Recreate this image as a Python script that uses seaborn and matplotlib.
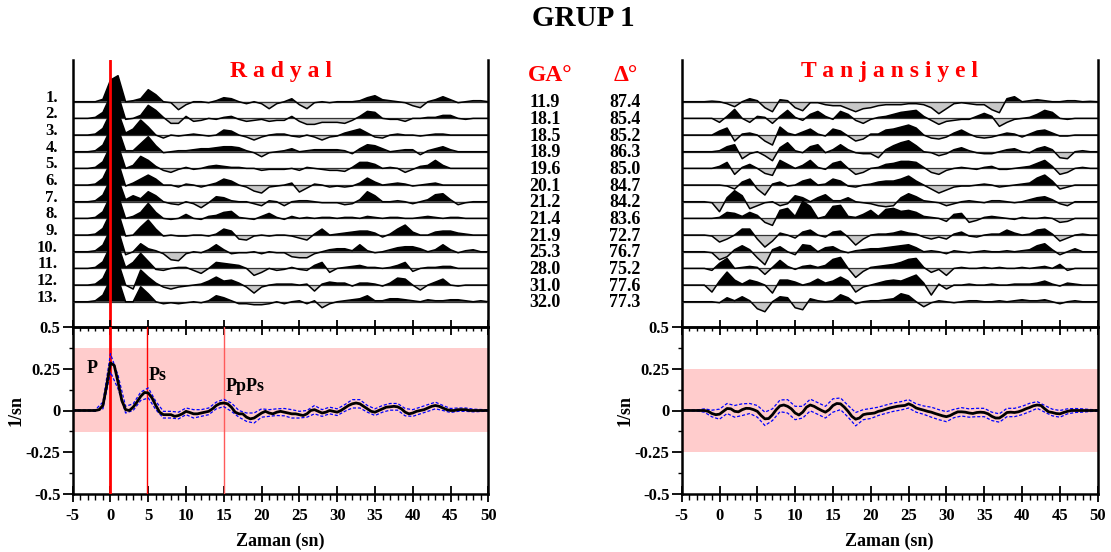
import numpy as np
import matplotlib
matplotlib.use("Agg")
import matplotlib.pyplot as plt
import matplotlib.transforms as mtransforms
from matplotlib.ticker import MultipleLocator, FixedLocator
import seaborn as sns

# ---------------- data ----------------
time_trace = np.arange(-5, 51, 1.0)        # 1 s samples, -5 .. 50 s
time_stack = np.arange(-5, 50.25, 0.5)     # 0.5 s samples for the stacks

trace_labels = ["1.", "2.", "3.", "4.", "5.", "6.", "7.", "8.", "9.", "10.", "11.", "12.", "13."]
back_azimuth = ["11.9", "18.1", "18.5", "18.9", "19.6", "20.1", "21.2", "21.4", "21.9", "25.3", "28.0", "31.0", "32.0"]
distance = ["87.4", "85.4", "85.2", "86.3", "85.0", "84.7", "84.2", "83.6", "72.7", "76.7", "75.2", "77.6", "77.3"]

# individual receiver functions (relative amplitude), t = -5 .. 50 s
radial_traces = [
    [0, 0, 0, 0.0, 0.12, 1.08, 1.3, 0.0, 0.05, 0.15, 0.6, 0.35, 0.0, -0.05, -0.4,
     -0.15, 0.0, 0.0, -0.05, 0.05, 0.2, 0.15, 0.0, -0.1, 0.0,
     -0.1, -0.35, -0.1, 0.0, 0.15, -0.15, -0.35, -0.05, 0.0, -0.05,
     0.0, 0.0, 0.0, 0.05, 0.2, 0.3, 0.1, 0.05, 0.0, -0.05,
     -0.2, -0.3, 0.0, 0.1, 0.25, 0.1, -0.05, 0.0, 0.05, 0.05, 0.0],
    [0, 0, 0, 0.05, 0.3, 1.12, 1.2, -0.05, 0.0, 0.15, 0.65, 0.4, 0.05, -0.25, -0.25,
     0.1, -0.15, -0.1, 0.0, -0.05, 0.05, 0.1, -0.05, -0.15, -0.1,
     -0.05, -0.15, -0.1, -0.1, 0.1, -0.15, -0.3, -0.3, -0.2, -0.2,
     -0.2, -0.25, -0.1, 0.1, 0.35, 0.3, 0.0, -0.05, -0.05, -0.15,
     0.0, 0.0, 0.05, 0.05, 0.15, 0.15, 0.0, -0.05, 0.0, 0.0, 0.0],
    [0, 0, 0, 0.05, 0.33, 1.12, 1.17, 0.1, 0.3, 0.75, 0.4, 0.0, -0.15, 0.0, -0.05,
     0.0, 0.05, 0.0, -0.05, 0.0, 0.25, 0.2, 0.0, -0.1, -0.25,
     -0.1, 0.0, 0.05, 0.05, -0.05, -0.1, 0.0, -0.1, -0.25, -0.1,
     -0.05, 0.1, 0.2, 0.3, 0.1, -0.1, -0.15, 0.0, 0.05, 0.0,
     0.0, -0.05, 0.0, 0.05, 0.05, 0.0, 0.0, 0.0, 0.0, 0.0, 0.0],
    [0, 0, 0, 0.05, 0.33, 1.12, 1.17, 0.05, 0.05, 0.4, 0.75, 0.3, -0.05, 0.0, 0.05,
     0.05, 0.1, 0.15, 0.15, 0.2, 0.25, 0.25, 0.2, 0.05, -0.05,
     -0.25, -0.05, 0.0, 0.05, 0.15, 0.0, 0.05, 0.1, 0.1, 0.1,
     0.1, 0.05, -0.1, 0.15, 0.35, 0.3, 0.15, 0.0, 0.05, 0.1,
     0.1, -0.15, 0.05, 0.15, 0.25, 0.1, 0.0, 0.0, 0.0, 0.0, 0.0],
    [0, 0, 0, 0.05, 0.33, 1.12, 1.17, 0.0, 0.15, 0.6, 0.4, 0.1, -0.1, -0.2, -0.05,
     0.05, -0.05, 0.0, 0.1, 0.15, 0.1, 0.05, 0.05, 0.0, 0.0,
     -0.1, -0.05, -0.05, -0.05, 0.0, -0.1, 0.05, 0.0, -0.05, -0.1,
     -0.1, -0.15, 0.05, 0.3, 0.3, 0.2, 0.0, 0.05, 0.0, -0.2,
     -0.05, 0.1, 0.15, 0.4, 0.15, 0.0, 0.0, 0.0, 0.0, 0.0, 0.0],
    [0, 0, 0, 0.05, 0.33, 1.12, 1.17, -0.05, 0.1, 0.3, 0.5, 0.3, 0.0, 0.0, -0.1,
     0.05, 0.0, -0.1, 0.0, 0.1, 0.3, 0.2, 0.0, -0.1, -0.3,
     -0.4, -0.1, -0.05, 0.0, 0.1, -0.35, -0.15, 0.05, 0.0, -0.1,
     -0.05, -0.1, -0.05, 0.1, 0.35, 0.15, 0.0, 0.05, 0.1, 0.05,
     -0.05, 0.0, 0.05, 0.1, 0.0, 0.0, 0.0, 0.0, 0.0, 0.0, 0.0],
    [0, 0, 0, 0.05, 0.33, 1.12, 1.17, 0.1, 0.3, 0.15, 0.5, 0.3, 0.0, -0.1, -0.15,
     0.0, -0.1, -0.3, -0.05, 0.25, 0.2, 0.05, 0.0, 0.0, -0.1,
     -0.2, 0.05, 0.0, -0.2, 0.0, 0.05, 0.05, 0.0, -0.05, -0.05,
     -0.05, -0.15, -0.1, 0.1, 0.5, 0.3, 0.0, 0.0, 0.05, 0.0,
     -0.1, 0.0, 0.1, 0.35, 0.4, 0.1, -0.15, -0.05, 0.0, 0.0, 0.0],
    [0, 0, 0, 0.05, 0.33, 1.12, 1.17, 0.0, 0.1, 0.3, 0.75, 0.3, 0.0, -0.05, 0.0,
     0.2, 0.0, -0.05, 0.1, 0.15, 0.3, 0.35, 0.05, 0.0, -0.05,
     0.1, 0.25, 0.05, -0.05, 0.1, 0.0, 0.05, 0.0, 0.05, 0.05,
     0.0, 0.05, 0.05, 0.0, 0.1, 0.05, 0.0, 0.05, 0.05, 0.0,
     0.0, 0.05, 0.1, 0.05, 0.0, 0.05, 0.05, 0.0, 0.0, 0.0, 0.0],
    [0, 0, 0, 0.05, 0.33, 1.12, 1.17, -0.05, 0.0, 0.4, 0.75, 0.3, -0.05, 0.0, -0.05,
     -0.05, 0.0, 0.0, -0.05, 0.05, 0.3, 0.2, -0.2, -0.25, -0.05,
     0.0, -0.05, 0.0, 0.0, -0.05, -0.15, -0.25, 0.05, 0.3, 0.0,
     0.05, 0.1, 0.15, 0.2, 0.2, 0.1, -0.1, 0.05, 0.3, 0.5,
     0.15, 0.0, 0.0, 0.15, 0.2, 0.2, 0.1, 0.05, 0.0, 0.0, 0.0],
    [0, 0, 0, 0.05, 0.33, 1.12, 1.12, -0.15, 0.0, 0.4, 0.15, 0.05, -0.1, -0.4, -0.45,
     -0.1, 0.0, -0.05, 0.1, 0.35, 0.1, -0.1, -0.05, -0.05, 0.0,
     -0.1, 0.0, -0.05, -0.05, -0.25, -0.3, -0.3, -0.1, 0.0, 0.1,
     0.15, 0.15, 0.05, 0.35, 0.05, -0.05, 0.0, 0.1, 0.2, 0.25,
     0.25, 0.15, 0.0, 0.1, 0.35, 0.1, -0.05, 0.05, 0.1, 0.0, 0.0],
    [0, 0, 0, 0.05, 0.33, 1.12, 1.17, 0.05, 0.3, 0.75, 0.35, -0.05, -0.1, 0.0, 0.05,
     0.05, -0.1, -0.25, 0.0, 0.3, 0.25, 0.2, 0.15, 0.0, -0.35,
     -0.2, 0.0, -0.1, -0.05, 0.05, -0.05, -0.1, 0.15, 0.3, -0.2,
     0.0, 0.05, 0.1, 0.15, 0.05, 0.05, 0.0, 0.05, 0.15, 0.3,
     -0.15, 0.0, 0.05, 0.05, 0.1, 0.1, 0.0, 0.0, 0.0, 0.0, 0.0],
    [0, 0, 0, 0.05, 0.33, 1.12, 1.17, 0.0, -0.2, 0.75, 0.4, 0.1, -0.1, -0.2, -0.1,
     -0.05, 0.0, 0.05, 0.2, 0.4, 0.2, 0.25, 0.1, -0.1, -0.4,
     -0.1, 0.0, 0.05, 0.05, 0.05, 0.0, 0.05, -0.3, 0.05, 0.15,
     0.1, 0.1, -0.05, 0.1, 0.1, 0.05, -0.05, 0.1, 0.35, 0.3,
     0.0, -0.25, 0.0, 0.15, 0.3, 0.0, -0.05, 0.0, 0.0, 0.0, 0.0],
    [0, 0, 0, 0.05, 0.33, 1.12, 1.17, 0.0, 0.0, 0.75, 0.4, 0.0, -0.1, -0.05, -0.1,
     -0.05, 0.0, -0.05, 0.05, 0.3, 0.2, 0.05, -0.1, -0.1, -0.15,
     -0.15, -0.1, 0.0, -0.1, 0.0, 0.05, -0.1, 0.05, -0.3, -0.1,
     0.0, 0.05, 0.1, 0.15, 0.3, 0.05, 0.05, 0.15, 0.15, 0.1,
     0.05, 0.0, 0.1, 0.05, 0.05, 0.1, 0.1, 0.05, 0.0, 0.05, 0.0],
]

tangential_traces = [
    [0, 0, 0, 0, 0.03, 0.0, -0.1, -0.25, 0.0, 0.15, 0.05, -0.3, -0.5, 0.1, 0.05,
     -0.3, -0.45, -0.05, -0.05, -0.15, -0.2, -0.2, -0.35, -0.5, -0.35,
     -0.3, -0.2, -0.15, -0.15, -0.15, -0.1, -0.1, -0.15, -0.3, -0.6,
     -0.35, -0.1, -0.05, -0.1, -0.15, -0.15, -0.4, -0.55, 0.15, 0.25,
     0.0, 0.05, 0.1, 0.05, 0.0, 0.0, 0.05, 0.05, 0.0, 0.02, 0.0],
    [0, 0, 0, 0, 0, -0.2, 0.1, 0.45, 0.0, -0.2, 0.1, 0.05, -0.25, 0.1, 0.4,
     0.05, -0.1, 0.2, 0.35, 0.1, -0.05, 0.35, 0.2, -0.1, -0.25,
     -0.05, 0.05, 0.1, 0.2, 0.3, 0.35, 0.4, 0.1, -0.1, -0.3,
     -0.15, -0.1, -0.05, -0.05, 0.1, 0.25, 0.1, -0.4, -0.2, -0.05,
     0.0, 0.05, 0.2, 0.4, 0.3, 0.0, -0.05, 0.0, 0.0, 0.0, 0.0],
    [0, 0, 0, 0, 0, 0.2, 0.35, -0.3, 0.05, 0.1, 0.0, -0.3, -0.5, 0.4, 0.1,
     0.0, 0.15, 0.3, 0.05, -0.05, 0.3, 0.2, -0.05, -0.3, -0.2,
     0.05, 0.05, 0.25, 0.3, 0.4, 0.5, 0.35, 0.0, -0.15, -0.2,
     -0.1, 0.1, 0.25, 0.05, -0.1, -0.15, -0.1, 0.0, 0.1, 0.05,
     -0.1, 0.05, 0.2, 0.25, 0.1, -0.05, -0.05, 0.0, 0.0, 0.0, 0.0],
    [0, 0, 0, 0, 0, 0.05, 0.25, 0.35, -0.35, -0.1, 0.0, -0.2, -0.45, 0.2, 0.45,
     0.05, -0.05, 0.25, 0.35, -0.05, 0.1, 0.35, 0.1, -0.05, -0.1,
     -0.1, -0.3, 0.1, 0.3, 0.45, 0.55, 0.3, 0.0, -0.05, -0.2,
     -0.1, 0.1, 0.2, 0.05, -0.05, -0.1, -0.1, 0.0, 0.1, 0.15,
     0.0, -0.05, 0.15, 0.25, 0.1, -0.3, -0.35, 0.0, 0.05, 0.0, 0.0],
    [0, 0, 0, 0, 0, 0.1, 0.3, -0.3, 0.05, 0.2, 0.0, -0.25, -0.35, 0.4, 0.2,
     0.0, 0.15, 0.4, 0.05, -0.05, 0.25, 0.35, 0.0, -0.3, -0.2,
     0.0, 0.05, 0.2, 0.25, 0.35, 0.35, 0.3, 0.05, -0.2, -0.3,
     -0.1, 0.0, 0.05, 0.0, -0.05, 0.05, 0.1, -0.05, -0.05, 0.0,
     0.05, 0.1, 0.25, 0.4, 0.1, -0.3, -0.2, 0.0, 0.05, 0.0, 0.0],
    [0, 0, 0, 0, 0, 0.0, -0.05, -0.2, 0.15, 0.3, -0.2, -0.5, 0.05, 0.15, -0.05,
     0.0, 0.2, 0.3, 0.0, 0.05, 0.3, 0.2, -0.05, -0.1, 0.0,
     0.05, 0.15, 0.2, 0.2, 0.3, 0.45, 0.2, 0.0, -0.2, -0.4,
     -0.25, -0.1, -0.05, -0.05, 0.0, 0.05, 0.0, -0.1, -0.05, 0.0,
     0.05, 0.1, 0.35, 0.5, 0.2, -0.2, -0.1, 0.0, 0.0, 0.0, 0.0],
    [0, 0, 0, 0, -0.05, -0.5, 0.2, 0.55, 0.3, -0.35, -0.2, -0.05, 0.0, -0.2, -0.1,
     0.3, 0.2, 0.0, 0.2, 0.35, 0.05, 0.05, 0.2, 0.0, -0.05,
     -0.1, -0.2, -0.25, -0.2, 0.2, 0.4, 0.25, 0.05, 0.0, -0.05,
     -0.2, -0.1, 0.0, 0.05, 0.0, -0.05, 0.05, 0.05, 0.0, -0.05,
     0.0, 0.1, 0.2, 0.25, 0.1, -0.1, -0.2, 0.0, 0.0, 0.0, 0.0],
    [0, 0, 0, 0, 0, 0.05, 0.3, 0.25, 0.1, 0.3, 0.15, -0.2, -0.35, 0.4, 0.5,
     0.1, 0.85, 0.6, 0.0, 0.1, 0.6, 0.65, 0.1, 0.05, 0.2,
     0.4, 0.1, 0.45, 0.5, 0.35, 0.4, 0.3, 0.1, 0.05, 0.0,
     -0.15, 0.2, 0.25, -0.2, -0.1, 0.05, 0.1, 0.05, 0.0, -0.05,
     0.05, 0.0, 0.0, 0.05, 0.0, -0.2, -0.15, 0.0, 0.0, 0.0, 0.0],
    [0, 0, 0, 0, -0.05, -0.35, -0.2, 0.0, 0.3, 0.3, -0.2, -0.6, -0.3, 0.1, 0.0,
     -0.15, 0.15, 0.25, 0.0, -0.1, 0.15, 0.2, -0.1, -0.5, -0.2,
     0.0, 0.05, 0.05, 0.1, 0.2, 0.1, 0.05, -0.1, -0.2, -0.1,
     -0.2, 0.05, 0.15, -0.05, -0.1, 0.0, 0.05, 0.05, 0.25, 0.1,
     0.0, 0.05, 0.25, 0.3, 0.05, -0.3, -0.15, 0.0, 0.05, 0.0, 0.0],
    [0, 0, 0, 0, -0.05, -0.4, -0.25, 0.1, 0.3, 0.1, -0.3, -0.65, 0.1, 0.25, 0.0,
     -0.15, 0.35, 0.3, 0.0, 0.2, 0.25, 0.05, -0.05, 0.05, 0.1,
     0.15, 0.15, 0.2, 0.25, 0.3, 0.35, 0.2, 0.0, 0.05, 0.0,
     -0.1, 0.05, 0.0, -0.05, 0.0, 0.05, 0.0, 0.0, 0.05, 0.0,
     0.05, 0.1, 0.3, 0.4, 0.1, -0.15, 0.0, 0.15, 0.0, 0.0, 0.0],
    [0, 0, 0, 0, -0.1, 0.25, 0.5, 0.0, 0.05, 0.1, 0.05, -0.3, 0.05, 0.4, 0.1,
     -0.05, 0.1, 0.15, 0.05, 0.15, 0.45, 0.55, 0.0, -0.45, -0.15,
     0.05, 0.1, 0.15, 0.2, 0.3, 0.45, 0.5, 0.05, -0.2, -0.05,
     -0.35, 0.0, 0.05, 0.0, 0.0, 0.05, 0.0, 0.05, 0.0, 0.0,
     0.05, 0.0, 0.05, 0.1, 0.0, 0.2, -0.1, 0.0, 0.0, 0.0, 0.0],
    [0, 0, 0, 0.0, -0.35, 0.2, 0.65, 0.25, 0.05, 0.25, 0.15, 0.0, -0.4, 0.25, 0.25,
     0.15, 0.0, 0.1, 0.3, 0.1, 0.2, 0.4, 0.2, -0.35, -0.1,
     0.0, 0.1, 0.2, 0.25, 0.2, 0.35, 0.5, 0.1, -0.5, 0.05,
     -0.2, 0.0, 0.0, 0.05, 0.0, 0.0, 0.05, 0.0, 0.0, 0.05,
     0.05, 0.05, 0.1, 0.2, 0.05, -0.05, 0.1, 0.05, 0.0, 0.0, 0.0],
    [0, 0, 0, 0, 0, -0.05, 0.2, 0.05, 0.25, 0.05, -0.35, -0.5, 0.0, 0.25, 0.2,
     -0.3, -0.4, 0.15, 0.05, 0.0, 0.05, 0.35, 0.2, -0.1, 0.0,
     0.05, 0.05, 0.1, 0.15, 0.4, 0.3, 0.0, -0.25, -0.05, 0.05,
     0.0, -0.05, 0.0, 0.05, 0.05, 0.0, 0.0, 0.05, 0.0, 0.05,
     0.1, 0.05, 0.05, 0.1, 0.0, -0.1, 0.0, 0.05, 0.0, 0.0, 0.0],
]

# stacked receiver functions (1/sn), t = -5 .. 50 s every 0.5 s
radial_stack = [
    0, 0, 0, 0, 0, 0, 0.0, 0.005, 0.03, 0.15,
    0.285, 0.27, 0.17, 0.06, 0.005, 0.0, 0.02, 0.05, 0.085, 0.108,
    0.105, 0.075, 0.03, -0.01, -0.025, -0.025, -0.025, -0.035, -0.03, -0.02,
    -0.005, -0.012, -0.02, -0.02, -0.015, -0.01, -0.005, 0.01, 0.03, 0.042,
    0.045, 0.04, 0.02, -0.01, -0.02, -0.02, -0.04, -0.05, -0.045, -0.03,
    -0.015, -0.005, -0.015, -0.02, -0.01, -0.005, -0.01, -0.015, -0.02, -0.02,
    -0.025, -0.03, -0.02, 0.0, 0.005, -0.005, -0.015, -0.01, 0.0, -0.005,
    -0.01, 0.0, 0.015, 0.03, 0.04, 0.045, 0.04, 0.025, 0.01, -0.005,
    -0.01, 0.0, 0.01, 0.02, 0.022, 0.025, 0.022, 0.01, -0.01, -0.02,
    -0.015, -0.005, 0.0, 0.005, 0.015, 0.025, 0.03, 0.025, 0.015, 0.005,
    0.0, 0.0, 0.005, 0.005, 0.005, 0.0, 0.0, 0.0, 0.0, 0.0, 0.0,
]
tangential_stack = [
    0, 0, 0, 0, 0, 0, 0.0, -0.005, -0.018, -0.025,
    -0.022, -0.005, 0.012, 0.01, -0.005, -0.008, 0.005, 0.013, 0.012, 0.005,
    -0.005, -0.03, -0.05, -0.048, -0.025, 0.005, 0.028, 0.033, 0.025, 0.01,
    -0.015, -0.027, -0.01, 0.02, 0.033, 0.025, 0.012, 0.0, -0.01, 0.005,
    0.03, 0.042, 0.04, 0.02, -0.005, -0.035, -0.052, -0.045, -0.025, -0.02,
    -0.018, -0.015, -0.005, 0.0, 0.008, 0.015, 0.02, 0.025, 0.028, 0.03,
    0.04, 0.03, 0.015, 0.008, 0.002, -0.005, -0.01, -0.018, -0.025, -0.032,
    -0.037, -0.03, -0.018, -0.008, -0.008, -0.01, -0.015, -0.018, -0.012, -0.01,
    -0.012, -0.02, -0.035, -0.045, -0.045, -0.03, -0.012, -0.01, -0.012, -0.008,
    0.0, 0.01, 0.018, 0.028, 0.033, 0.03, 0.01, -0.008, -0.012, -0.018,
    -0.02, -0.012, -0.005, 0.0, 0.0, 0.0, 0.0, 0.0, 0.0, 0.0, 0.0,
]
# standard deviation of the stacks, t = -5 .. 50 s every 1 s
radial_std = [
    0.003, 0.003, 0.003, 0.005, 0.02,
    0.055, 0.04, 0.02, 0.02, 0.025, 0.03, 0.025, 0.02, 0.02, 0.02,
    0.02, 0.025, 0.02, 0.02, 0.02, 0.022, 0.025, 0.02, 0.025, 0.03,
    0.025, 0.02, 0.02, 0.022, 0.025, 0.02, 0.02, 0.025, 0.02, 0.02,
    0.02, 0.02, 0.025, 0.025, 0.02, 0.02, 0.02, 0.02, 0.02, 0.022,
    0.02, 0.02, 0.02, 0.02, 0.015, 0.012, 0.01, 0.01, 0.008, 0.006, 0.004,
]
tangential_std = [
    0.002, 0.002, 0.003, 0.01, 0.02,
    0.03, 0.03, 0.035, 0.035, 0.03, 0.035, 0.04, 0.035, 0.035, 0.04,
    0.04, 0.035, 0.035, 0.035, 0.035, 0.04, 0.035, 0.035, 0.04, 0.03,
    0.03, 0.025, 0.025, 0.025, 0.025, 0.025, 0.025, 0.025, 0.03, 0.03,
    0.03, 0.025, 0.025, 0.025, 0.025, 0.025, 0.025, 0.025, 0.025, 0.025,
    0.025, 0.025, 0.02, 0.02, 0.02, 0.02, 0.015, 0.012, 0.01, 0.006, 0.004,
]
radial_band = (-0.13, 0.375)
tangential_band = (-0.25, 0.25)

phase_times = [0.0, 4.85, 15.0]
phase_names = ["P", "Ps", "PpPs"]
phase_label_pos = [(-2.45, 0.25), (5.1, 0.207), (15.3, 0.144)]

xticks = list(range(-5, 51, 5))
yticks = [-0.5, -0.25, 0, 0.25, 0.5]
ytick_labels = ["-0.5", "-0.25", "0", "0.25", "0.5"]

for tr in radial_traces + tangential_traces:
    assert len(tr) == len(time_trace), len(tr)
assert len(radial_stack) == len(time_stack) == len(tangential_stack)
assert len(radial_std) == len(tangential_std) == len(time_trace)

# ---------------- style ----------------
sns.set_style("white")
plt.rcParams["font.family"] = ["Liberation Serif", "DejaVu Serif"]
plt.rcParams["font.weight"] = "bold"
plt.rcParams["axes.labelweight"] = "bold"
for k in ["text.color", "axes.labelcolor", "xtick.color", "ytick.color", "axes.edgecolor"]:
    plt.rcParams[k] = "black"

W, H = 1111, 552
fig = plt.figure(figsize=(W / 100, H / 100), dpi=100)


def fx(px):
    return px / W


def fy(py):
    return 1 - py / H


L0, L1 = 72.7, 488.3
R0, R1 = 681.7, 1097.7
TOP, MID, BOT = 60, 327, 494
BASE0, SPACING = 101.7, 16.67
TRACE_GAIN = 1.2   # display gain of the individual traces (trace spacing = 1)

ax_rt = fig.add_axes([fx(L0), fy(MID), (L1 - L0) / W, (MID - TOP) / H])
ax_tt = fig.add_axes([fx(R0), fy(MID), (R1 - R0) / W, (MID - TOP) / H])
ax_rb = fig.add_axes([fx(L0), fy(BOT), (L1 - L0) / W, (BOT - MID) / H])
ax_tb = fig.add_axes([fx(R0), fy(BOT), (R1 - R0) / W, (BOT - MID) / H])


def draw_traces(ax, traces, title):
    ax.patch.set_alpha(0)
    for i, tr in enumerate(traces):
        v = np.asarray(tr, dtype=float) * TRACE_GAIN
        base = -float(i)
        y = base + v
        z = 2 + i * 0.1
        ax.fill_between(time_trace, base, y, where=v >= 0, interpolate=True,
                        color="black", lw=0, zorder=z)
        ax.fill_between(time_trace, base, y, where=v <= 0, interpolate=True,
                        color="#c8c8c8", lw=0, zorder=z)
        ax.plot([time_trace[0], time_trace[-1]], [base, base], color="0.2", lw=0.9, zorder=z + 0.01)
        ax.plot(time_trace, y, color="black", lw=1.1, zorder=z + 0.02)
    ax.set_xlim(-5, 50)
    ax.set_ylim((BASE0 - MID) / SPACING, (BASE0 - TOP) / SPACING)
    ax.set_xticks([])
    ax.set_yticks([])
    for s in ["top", "bottom"]:
        ax.spines[s].set_visible(False)
    for s in ["left", "right"]:
        ax.spines[s].set_linewidth(1.8)
        ax.spines[s].set_color("black")
    tr_blend = mtransforms.blended_transform_factory(ax.transAxes, ax.transData)
    ax.text(0.5, (BASE0 - 77) / SPACING, title, transform=tr_blend, ha="center",
            va="baseline", color="red", fontsize=17)


draw_traces(ax_rt, radial_traces, "R a d y a l")
draw_traces(ax_tt, tangential_traces, "T a n j a n s i y e l")
ax_rt.axvline(phase_times[0], color="red", lw=2.0, zorder=10)

# station labels and GA / Delta columns
blend_lab = mtransforms.blended_transform_factory(ax_rt.transAxes, ax_rt.transData)
blend_fig = mtransforms.blended_transform_factory(fig.transFigure, ax_rt.transData)
for i, lab in enumerate(trace_labels):
    ax_rt.text((58 - L0) / (L1 - L0), -i + 4 / SPACING, lab, transform=blend_lab,
               ha="right", va="center", fontsize=12)
    ax_rt.text(fx(545), -i - 1 / SPACING, back_azimuth[i], transform=blend_fig,
               ha="center", va="center", fontsize=13)
    ax_rt.text(fx(625), -i - 1 / SPACING, distance[i], transform=blend_fig,
               ha="center", va="center", fontsize=13)
ax_rt.text(fx(550.5), (BASE0 - 81) / SPACING, "GA°", transform=blend_fig,
           ha="center", va="baseline", color="red", fontsize=17)
ax_rt.text(fx(626), (BASE0 - 81) / SPACING, "Δ°", transform=blend_fig,
           ha="center", va="baseline", color="red", fontsize=17)


def style_bottom(ax):
    ax.set_xlim(-5, 50)
    ax.set_ylim(-0.5, 0.5)
    ax.xaxis.set_major_locator(FixedLocator(xticks))
    ax.xaxis.set_minor_locator(MultipleLocator(1))
    ax.set_xticklabels([str(v) for v in xticks])
    ax.yaxis.set_major_locator(FixedLocator(yticks))
    ax.set_yticklabels(ytick_labels)
    ax.yaxis.set_minor_locator(MultipleLocator(0.125))
    ax.tick_params(axis="x", which="major", direction="inout", length=11.5, width=1.3,
                   pad=4, labelsize=12, bottom=True, top=False, color="black")
    ax.tick_params(axis="x", which="minor", direction="out", length=4.3, width=1.0,
                   bottom=True, top=False, color="black")
    ax.tick_params(axis="y", which="major", direction="out", length=7.2, width=1.3,
                   pad=1.5, labelsize=12, left=True, right=False, color="black")
    ax.tick_params(axis="y", which="minor", direction="out", length=2.9, width=1.0,
                   left=True, right=False, color="black")
    for s in ax.spines.values():
        s.set_linewidth(1.8)
        s.set_color("black")
    sec = ax.secondary_xaxis("top")
    sec.xaxis.set_major_locator(FixedLocator(xticks))
    sec.xaxis.set_minor_locator(MultipleLocator(1))
    sec.tick_params(which="major", direction="inout", length=10.8, width=1.3,
                    labeltop=False, top=True, color="black")
    sec.tick_params(which="minor", direction="in", length=2.9, width=1.0, top=True,
                    color="black")
    sec.spines["top"].set_linewidth(1.8)
    ax.set_ylabel("1/sn", fontsize=13)
    ax.yaxis.set_label_coords(-0.115, 0.5)
    ax.set_xlabel("Zaman (sn)", fontsize=13)
    ax.xaxis.label.set_va("baseline")
    ax.xaxis.set_label_coords(0.5, -(546 - BOT) / (BOT - MID))


def draw_stack(ax, stack, std, band):
    ax.axhspan(band[0], band[1], color="#ffcccc", lw=0, zorder=0)
    mean = np.asarray(stack, dtype=float)
    sd = np.asarray(std, dtype=float)
    sub = mean[::2]
    sns.lineplot(x=time_trace, y=sub + sd, ax=ax, color="blue", lw=0.9,
                 linestyle=(0, (2.5, 1.5)), zorder=4)
    sns.lineplot(x=time_trace, y=sub - sd, ax=ax, color="blue", lw=0.9,
                 linestyle=(0, (2.5, 1.5)), zorder=4)
    sns.lineplot(x=time_stack, y=mean, ax=ax, color="black", lw=2.0, zorder=5)


draw_stack(ax_rb, radial_stack, radial_std, radial_band)
draw_stack(ax_tb, tangential_stack, tangential_std, tangential_band)

ax_rb.axvline(phase_times[0], color="red", lw=2.0, zorder=3)
ax_rb.axvline(phase_times[1], color="red", lw=1.0, zorder=3)
ax_rb.axvline(phase_times[2], color="#ff5a5a", lw=1.0, zorder=3)
for name, (px_, py_) in zip(phase_names, phase_label_pos):
    ax_rb.text(px_, py_, name, ha="center" if name == "P" else "left", va="center",
               fontsize=13, zorder=6)

style_bottom(ax_rb)
style_bottom(ax_tb)

fig.text(fx(583.5), fy(19), "GRUP 1", ha="center", va="center", fontsize=21)

fig.savefig("out.png", dpi=100)
